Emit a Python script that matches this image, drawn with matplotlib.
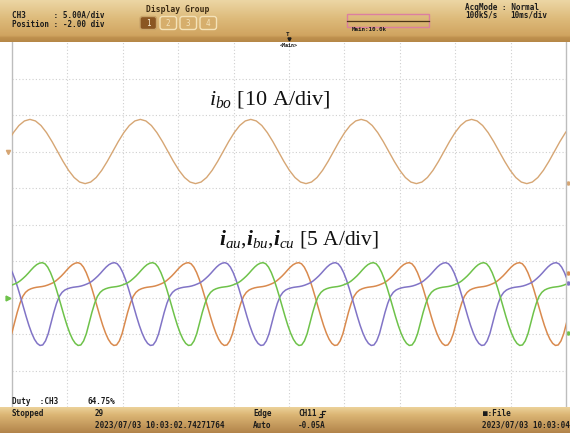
import numpy as np
import matplotlib
matplotlib.use("Agg")
import matplotlib.pyplot as plt
from matplotlib.patches import FancyBboxPatch, Rectangle

W, H, DPI = 570, 433, 100

# ---------------- scope settings ----------------
time_per_div_ms = 10
n_hdiv = 10
n_vdiv = 10
period_ms = 19.93

# i_bo : 10 A/div, trace position +2 div, one cycle sampled every 1 ms from its peak
ibo_scale = 10.0
ibo_position = 2.0
ibo_peak_ms = 3.24
ibo_cycle = [8.80, 8.37, 7.12, 5.17, 2.72, 0.00, -2.72, -5.17, -7.12, -8.37,
             -8.80, -8.37, -7.12, -5.17, -2.72, 0.00, 2.72, 5.17, 7.12, 8.37]

# phase currents : 5 A/div, trace position -2 div, one cycle sampled every 0.5 ms from its peak
phase_scale = 5.0
phase_position = -2.0
phase_cycle = [4.77, 4.62, 4.16, 3.42, 2.45, 1.29, 0.02, -1.31, -2.61, -3.83,
               -4.88, -5.72, -6.29, -6.57, -6.50, -5.95, -4.95, -3.50, -2.05, -0.80,
               0.15, 0.70, 1.02, 1.20, 1.32, 1.40, 1.45, 1.50, 1.58, 1.70,
               1.85, 2.02, 2.28, 2.60, 2.95, 3.35, 3.78, 4.18, 4.50, 4.70]
phase_names = ["i_au", "i_bu", "i_cu"]
phase_peak_ms = [11.9, 18.5, 5.45]
phase_colors = ["#d98a4e", "#8174c6", "#6ec24a"]
ibo_color = "#d6a674"

# level indicators at the right screen edge (div)
right_marks = [(1.14, ibo_color), (-1.33, "#d98a4e"),
               (-1.60, "#8174c6"), (-2.97, "#6ec24a")]

plt.rcParams['mathtext.fontset'] = 'custom'
plt.rcParams['mathtext.it'] = 'Liberation Serif:italic'
plt.rcParams['mathtext.rm'] = 'Liberation Serif'
plt.rcParams['mathtext.bf'] = 'Liberation Serif:italic:bold'


def tile_cycle(cycle, peak, period, t_end):
    vals = np.asarray(cycle, dtype=float)
    tau = np.arange(len(vals)) / len(vals) * period
    ts, vs = [], []
    for k in range(-2, int(t_end / period) + 2):
        ts.append(peak + k * period + tau)
        vs.append(vals)
    return np.concatenate(ts), np.concatenate(vs)


fig = plt.figure(figsize=(W / DPI, H / DPI), dpi=DPI, facecolor="white")

# ---------------- waveform area ----------------
x0, x1, y0, y1 = 12, 566, 42, 407
ax = fig.add_axes([x0 / W, (H - y1) / H, (x1 - x0) / W, (y1 - y0) / H])
t_end = time_per_div_ms * n_hdiv
ax.set_xlim(0, t_end)
ax.set_ylim(-n_vdiv / 2, n_vdiv / 2)
ax.set_facecolor("white")
for s in ["top", "bottom"]:
    ax.spines[s].set_visible(False)
for s in ["left", "right"]:
    ax.spines[s].set_color("#bdbdbd")
    ax.spines[s].set_linewidth(1.0)
ax.set_xticks([])
ax.set_yticks([])
for i in range(1, n_hdiv):
    ax.axvline(i * time_per_div_ms, color="#cfcfcf", lw=0.8, ls=(0, (1, 2)), zorder=0)
for j in range(-n_vdiv // 2 + 1, n_vdiv // 2):
    ax.axhline(j, color="#cfcfcf", lw=0.8, ls=(0, (1, 2)), zorder=0)

t, v = tile_cycle(ibo_cycle, ibo_peak_ms, period_ms, t_end)
ax.plot(t, ibo_position + v / ibo_scale, color=ibo_color, lw=1.0, zorder=3)

for name, pk, col in zip(phase_names, phase_peak_ms, phase_colors):
    t, v = tile_cycle(phase_cycle, pk, period_ms, t_end)
    ax.plot(t, phase_position + v / phase_scale, color=col, lw=1.1, zorder=3)

# position markers on the left edge, level marks on the right edge
ax.plot([-0.75], [ibo_position], marker="v", ms=3.0, color=ibo_color, clip_on=False)
ax.plot([-0.75], [phase_position], marker=">", ms=3.5, color="#6ec24a", clip_on=False)
for lvl, col in right_marks:
    ax.plot([100.45], [lvl], marker="o", ms=2.2, color=col, clip_on=False)

# labels
ax.text(35.5, 3.3, r"$i_{bo}$ [10 A/div]", fontsize=16, family="Liberation Serif",
        color="#111111", va="baseline", ha="left")
ax.text(37.3, -0.55, r"$\mathbf{i}_{au}$,$\mathbf{i}_{bu}$,$\mathbf{i}_{cu}$ [5 A/div]",
        fontsize=15.5, family="Liberation Serif", color="#111111", va="baseline", ha="left")

# ---------------- overlay in pixel units ----------------
ov = fig.add_axes([0, 0, 1, 1], facecolor="none")
ov.set_xlim(0, W)
ov.set_ylim(H, 0)
ov.axis("off")


def gradient(rows, y_top, y_bot):
    ys = np.linspace(0, 1, 64)
    stops = np.array([r[0] for r in rows])
    cols = np.array([r[1] for r in rows], dtype=float) / 255
    img = np.stack([np.interp(ys, stops, cols[:, c]) for c in range(3)], axis=1)
    img = img[:, None, :]
    ov.imshow(img, extent=(0, W, y_bot, y_top), aspect="auto", origin="upper",
              interpolation="bilinear", zorder=1)


gradient([(0.0, (236, 214, 164)), (0.45, (221, 186, 122)), (0.85, (208, 164, 96)),
          (0.9, (190, 144, 78)), (1.0, (182, 136, 72))], 0, 42)
gradient([(0.0, (236, 210, 154)), (0.3, (219, 181, 116)), (1.0, (178, 132, 74))], 407, 433)

mono = dict(family="DejaVu Sans Mono", fontsize=5.5, weight="bold", color="#1b1b1b",
            va="center", ha="left", zorder=5)
ov.text(12, 15, "CH3      : 5.00A/div", **mono)
ov.text(12, 24.5, "Position : -2.00 div", **mono)
ov.text(178, 9, "Display Group", **{**mono, "ha": "center", "color": "#3b2a12", "fontsize": 5.8})

btn_x = [140, 160, 180, 200]
for k, bx in enumerate(btn_x):
    active = k == 0
    fc = "#8a5622" if active else "#d6ae6c"
    ec = "#f4e2b8" if not active else "#c9a46a"
    ov.add_patch(FancyBboxPatch((bx, 16.5), 16.5, 13, boxstyle="round,pad=0,rounding_size=2.5",
                                fc=fc, ec=ec, lw=1.0, zorder=4))
    ov.text(bx + 8.25, 23, str(k + 1), **{**mono, "ha": "center", "weight": "normal",
                                          "color": "#fbefd6" if active else "#f3e2bb"})

ov.add_patch(Rectangle((347, 14), 82, 13, fc="none", ec="#dc7fa0", lw=1.0, zorder=4))
ov.plot([347, 429], [20.5, 20.5], color="#4a3518", lw=0.9, zorder=5)
ov.text(352, 29.5, "Main:10.0k", **{**mono, "fontsize": 4.2})
ov.text(465, 7.5, "AcqMode : Normal", **mono)
ov.text(465, 15.5, "100kS/s", **mono)
ov.text(510, 15.5, "10ms/div", **mono)

ov.text(287.5, 34, "T", **{**mono, "fontsize": 4.2, "ha": "center"})
ov.plot([289], [38.5], marker="v", ms=2.2, color="#1b1b1b", zorder=5)
ov.text(289, 45.5, "<Main>", **{**mono, "fontsize": 3.6, "ha": "center"})

ov.text(12, 401.5, "Duty  :CH3", **mono)
ov.text(87, 401.5, "64.75%", **mono)

ov.text(12, 414, "Stopped", **mono)
ov.text(95, 414, "29", **mono)
ov.text(95, 425, "2023/07/03 10:03:02.74271764", **mono)
ov.text(253, 414, "Edge", **mono)
ov.text(253, 425, "Auto", **mono)
ov.text(298, 414, "CH11", **mono)
# rising-edge trigger icon
ov.plot([319, 321.5, 321.5, 325], [417, 417, 411, 411], color="#1b1b1b", lw=0.9, zorder=5)
ov.plot([319.5, 323.5], [414, 414], color="#1b1b1b", lw=0.7, zorder=5)
ov.text(298, 425, "-0.05A", **mono)
ov.text(483, 414, "■:File", **mono)
ov.text(482, 425, "2023/07/03 10:03:04", **mono)

fig.savefig("out.png", dpi=DPI, facecolor="white")
